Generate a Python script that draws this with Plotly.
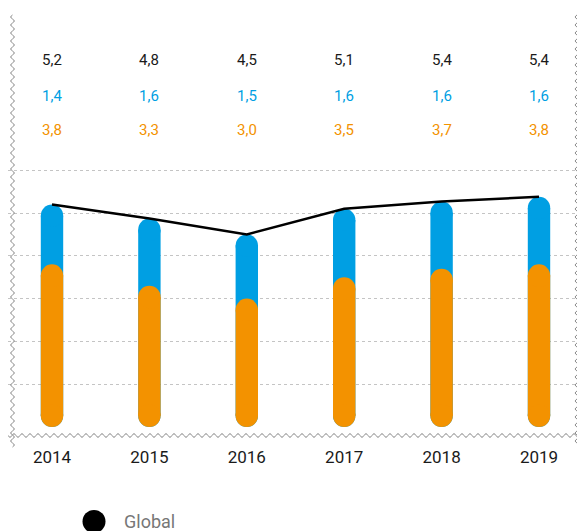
import math
import plotly.graph_objects as go

years = ["2014", "2015", "2016", "2017", "2018", "2019"]
global_vals = [5.2, 4.87, 4.5, 5.1, 5.27, 5.38]
orange_vals = [3.8, 3.3, 3.0, 3.5, 3.7, 3.8]
global_labels = ["5,2", "4,8", "4,5", "5,1", "5,4", "5,4"]
blue_labels = ["1,4", "1,6", "1,5", "1,6", "1,6", "1,6"]
orange_labels = ["3,8", "3,3", "3,0", "3,5", "3,7", "3,8"]

BLUE = "#009FE3"
ORANGE = "#F39200"
FONT = "Roboto"

OFF = 8  # browser body margin
W, H = 585 - OFF, 531 - OFF
ML, MR = 0, 8
PX_PER_CAT = 97.4
PX_PER_UNIT = 42.8
REF_ZERO = 427.0      # pixel of value 0 in the page
REF_TOP, REF_BOTTOM = 160.0, 436.0
MT = int(REF_TOP - OFF)
MB = int(H - (REF_BOTTOM - OFF))
PW = W - ML - MR
PH = H - MT - MB
Y0 = -(REF_BOTTOM - REF_ZERO) / PX_PER_UNIT
Y1 = Y0 + PH / PX_PER_UNIT


def px2paper(x, y):
    return (x - OFF - ML) / PW, (H - MB - (y - OFF)) / PH


def wavy(x0, y0, x1, y1, amp=1.8, wl=8.0):
    length = math.hypot(x1 - x0, y1 - y0)
    dx, dy = (x1 - x0) / length, (y1 - y0) / length
    nx, ny = -dy, dx
    pts = []
    n = int(length)
    for i in range(n + 1):
        t = i * length / n
        o = amp * math.sin(2 * math.pi * t / wl)
        px, py = px2paper(x0 + dx * t + nx * o, y0 + dy * t + ny * o)
        pts.append(f"{px:.5f},{py:.5f}")
    return "M" + " L".join(pts)


bar_px = 22.4
r = (bar_px / 2) / PX_PER_UNIT  # radius of the rounded ends, in data units


def pill(vals):
    xs, ys = [], []
    for yr, v in zip(years, vals):
        xs += [yr, yr, None]
        ys += [r, v - r, None]
    return xs, ys


fig = go.Figure()
for vals, col in [(global_vals, BLUE), (orange_vals, ORANGE)]:
    xs, ys = pill(vals)
    fig.add_trace(go.Scatter(x=xs, y=ys, mode="lines+markers", connectgaps=False,
                             line=dict(color=col, width=bar_px),
                             marker=dict(color=col, size=bar_px, line_width=0),
                             showlegend=False, hoverinfo="skip"))
fig.add_trace(go.Scatter(x=years, y=global_vals, mode="lines", line=dict(color="black", width=2.5),
                         showlegend=False, hoverinfo="skip", name="Global"))

annotations = []
rows = [(global_labels, "#1a1a1a", 60), (blue_labels, BLUE, 96), (orange_labels, ORANGE, 130)]
for labels, col, ypix in rows:
    yp = px2paper(0, ypix)[1]
    for i, t in enumerate(labels):
        annotations.append(dict(x=i, y=yp, xref="x", yref="paper", text=t, showarrow=False,
                                font=dict(family=FONT, size=15, color=col),
                                xanchor="center", yanchor="middle"))

# legend (drawn manually so the marker can be large)
lx, ly = px2paper(94, 521.5)
rx = 11.5 / PW
ry = 11.5 / PH
shapes = [dict(type="circle", xref="paper", yref="paper", x0=lx - rx, x1=lx + rx, y0=ly - ry, y1=ly + ry,
               fillcolor="black", line_width=0)]
tx, ty = px2paper(122, 521)
annotations.append(dict(x=tx, y=ty, xref="paper", yref="paper", text="Global", showarrow=False,
                        xanchor="left", yanchor="middle", font=dict(family=FONT, size=18, color="#777777")))

for (a, b, c, d) in [(12.5, 15, 12.5, 447), (577, 15, 577, 447), (0, 435.5, 585, 435.5)]:
    shapes.append(dict(type="path", xref="paper", yref="paper", path=wavy(a, b, c, d),
                       line=dict(color="#8c8c8c", width=1), layer="above"))

x0 = -(52 - OFF) / PX_PER_CAT
fig.update_layout(
    width=W, height=H,
    margin=dict(l=ML, r=MR, t=MT, b=MB),
    paper_bgcolor="white", plot_bgcolor="white",
    font=dict(family=FONT, color="#1a1a1a"),
    xaxis=dict(type="category", range=[x0, x0 + PW / PX_PER_CAT], showgrid=False, zeroline=False,
               showline=False, ticks="", tickfont=dict(size=17, color="#1a1a1a"),
               ticklabelstandoff=9, fixedrange=True),
    yaxis=dict(range=[Y0, Y1], tickvals=[1, 2, 3, 4, 5, 6], showticklabels=False,
               showgrid=True, gridcolor="#c4c4c4", griddash="dot", gridwidth=1, zeroline=False,
               showline=False, fixedrange=True),
    showlegend=False,
    annotations=annotations,
    shapes=shapes,
)

fig.write_html("out.html")
